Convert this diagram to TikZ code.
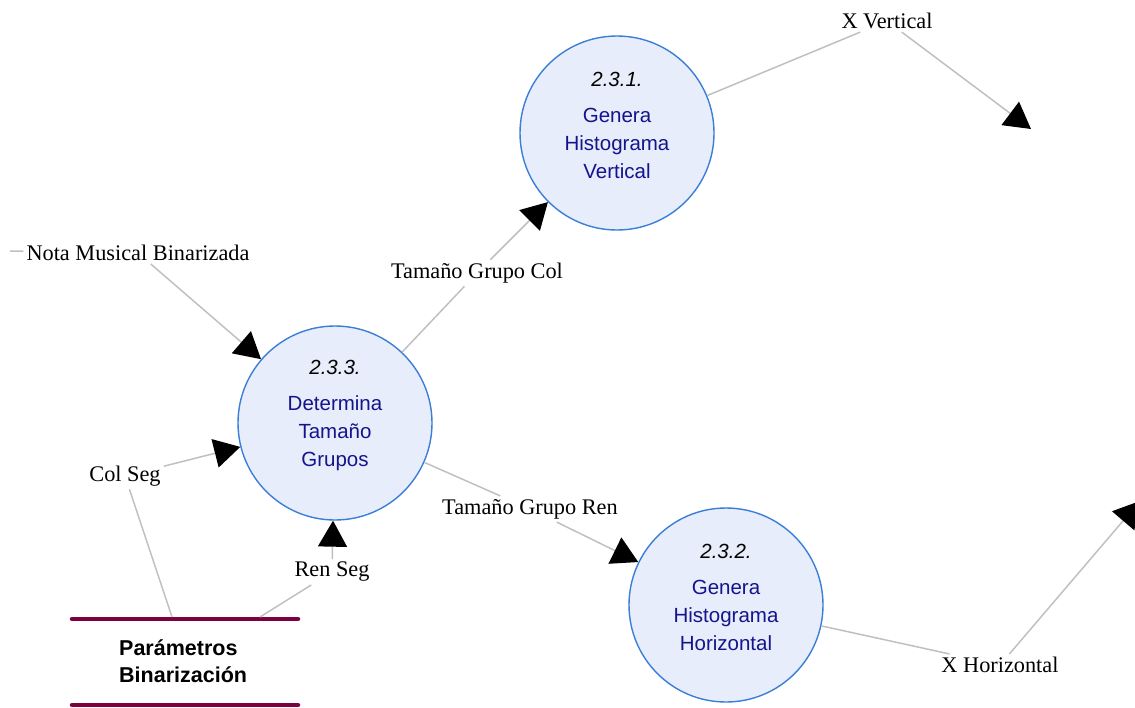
\documentclass[tikz,border=0pt]{standalone}
\usepackage{fontspec}
\setmainfont{Liberation Serif}
\newfontfamily\procfont{Liberation Sans}
\usetikzlibrary{arrows.meta}
\definecolor{procfill}{HTML}{E7EDFA}
\definecolor{procdraw}{HTML}{3A7ED6}
\definecolor{proctext}{HTML}{14148C}
\definecolor{flowgray}{HTML}{C0C0C0}
\definecolor{storecol}{HTML}{7D0040}
\tikzset{
  process/.style={circle, draw=procdraw, fill=procfill, line width=1.4pt,
    minimum size=194pt, inner sep=0pt},
  proctxt/.style={align=center, font=\procfont\fontsize{20.5}{28}\selectfont, text=proctext, inner sep=0pt},
  procnum/.style={text=black},
  flowlabel/.style={font=\fontsize{22.3}{24}\selectfont, inner sep=3pt},
  flow/.style={draw=flowgray, line width=1.5pt},
  flowarrow/.style={flow, -{Triangle[length=26pt,width=29pt,fill=black,color=black]}},
  storeline/.style={draw=storecol, line width=4.5pt, line cap=round},
  storetxt/.style={align=left, font=\procfont\bfseries\fontsize{21.5}{27}\selectfont, inner sep=0pt}
}
\begin{document}
\begin{tikzpicture}[x=1pt,y=-1pt]
\useasboundingbox (0,0) rectangle (1135,707);

% processes
\node[process] (p231) at (617,133) {};
\node[process] (p233) at (335,423) {};
\node[process] (p232) at (726,605) {};
\node[proctxt] (p231t) at (617,125) {\textcolor{black}{\textit{2.3.1.}}\\[8pt]Genera\\Histograma\\Vertical};
\node[proctxt] (p233t) at (335,415) {\textcolor{black}{\textit{2.3.3.}}\\[8pt]Determina\\Tamaño\\Grupos};
\node[proctxt] (p232t) at (726,597) {\textcolor{black}{\textit{2.3.2.}}\\[8pt]Genera\\Histograma\\Horizontal};

% data store
\draw[storeline] (72,619) -- (298,619);
\draw[storeline] (72,705) -- (298,705);
\node[storetxt, anchor=west] (store) at (119,661) {Parámetros\\Binarización};
\coordinate (storeA) at (172,617);
\coordinate (storeB) at (260,617);

% flow labels
\node[flowlabel] (nota) at (138,253) {Nota Musical Binarizada};
\node[flowlabel] (colseg) at (125,476) {Col Seg};
\node[flowlabel] (renseg) at (332,572) {Ren Seg};
\node[flowlabel] (tgcol) at (477,273) {Tamaño Grupo Col};
\node[flowlabel] (tgren) at (530,509) {Tamaño Grupo Ren};
\node[flowlabel] (xvert) at (887,21) {X Vertical};
\node[flowlabel] (xhor) at (1000,665) {X Horizontal};

% free ends
\coordinate (notain) at (10,251);
\coordinate (xvertout) at (1031,129);
\coordinate (xhorout) at (1140,501);

% flows
\draw[flow] (notain) -- (nota);
\draw[flowarrow] (nota) -- (p233);
\draw[flow] (storeA) -- (colseg);
\draw[flowarrow] (colseg) -- (p233);
\draw[flow] (storeB) -- (renseg);
\draw[flowarrow] (renseg) -- (p233);
\draw[flow] (p233) -- (tgcol);
\draw[flowarrow] (tgcol) -- (p231);
\draw[flow] (p233) -- (tgren);
\draw[flowarrow] (tgren) -- (p232);
\draw[flow] (p231) -- (xvert);
\draw[flowarrow] (xvert) -- (xvertout);
\draw[flow] (p232) -- (xhor);
\draw[flowarrow] (xhor) -- (xhorout);
\end{tikzpicture}
\end{document}
